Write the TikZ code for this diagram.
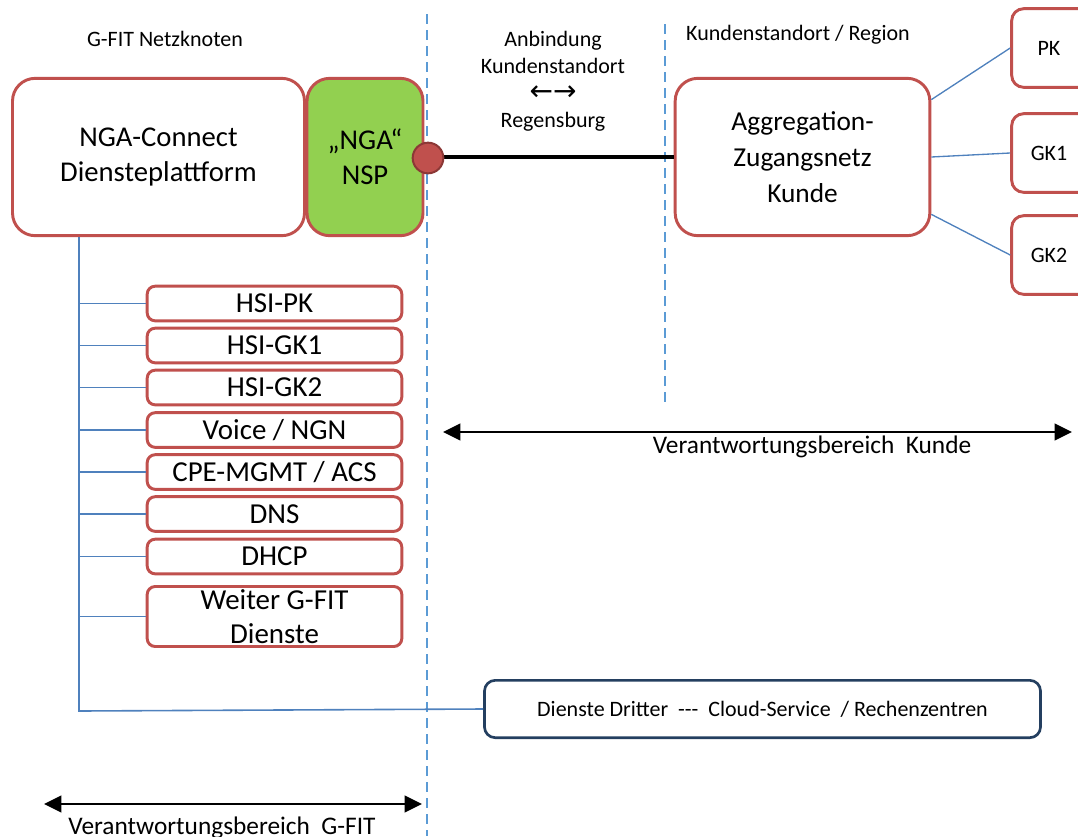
\documentclass[tikz,border=0pt]{standalone}
\usepackage{fontspec}
\setmainfont{Carlito}
\newfontfamily\pfeilfont{DejaVu Sans}
\usetikzlibrary{arrows.meta}
\definecolor{boxrot}{HTML}{C0504D}
\definecolor{portrot}{HTML}{8C3836}
\definecolor{nspgruen}{HTML}{92D050}
\definecolor{linienblau}{HTML}{4F81BD}
\definecolor{trennblau}{HTML}{5B9BD5}
\definecolor{dunkelblau}{HTML}{243F60}

\begin{document}
\begin{tikzpicture}[x=0.75pt,y=-0.75pt,
    haupt/.style={draw=boxrot, line width=2.2pt, rounded corners=17pt, fill=white, inner sep=0pt,
        align=center, minimum height=118pt, font=\fontsize{21.5}{26.5}\selectfont},
    dienst/.style={draw=boxrot, line width=2.2pt, rounded corners=6pt, fill=white, inner sep=0pt,
        align=center, minimum width=191pt, minimum height=26pt, font=\fontsize{21.7}{26}\selectfont},
    kunde/.style={draw=boxrot, line width=2.2pt, rounded corners=9pt, fill=white, inner sep=0pt,
        minimum width=62pt, minimum height=59pt, font=\fontsize{16.5}{20}\selectfont},
    port/.style={circle, fill=boxrot, draw=portrot, line width=1.5pt, minimum size=23pt, inner sep=0pt},
    label/.style={inner sep=0pt, align=center, font=\fontsize{16.5}{20.25}\selectfont},
    bereich/.style={inner sep=0pt, font=\fontsize{19}{23}\selectfont},
    bus/.style={draw=linienblau, line width=1.2pt},
    trenner/.style={draw=trennblau, line width=1pt, dash pattern=on 7.5pt off 4.5pt},
    massband/.style={line width=1.5pt, {Triangle[length=13pt,width=12.5pt]}-{Triangle[length=13pt,width=12.5pt]}}
]
\useasboundingbox (0,0) rectangle (1078,836);

        \coordinate (t1o) at (427,14);
        \coordinate (t1u) at (427,836);
        \coordinate (t2o) at (665,24);
        \coordinate (t2u) at (665,408);
        \draw [trenner] (t1o) -- (t1u);
        \draw [trenner] (t2o) -- (t2u);

        \node (knoten) [label] at (165,39) {G-FIT Netzknoten};
        \node (standort) [label] at (798,35) {Kundenstandort / Region};
        \node (anbindung) [label] at (553,81) {Anbindung\\Kundenstandort\\{\pfeilfont\fontsize{21}{20.25}\selectfont ←→}\\Regensburg};

        \node (plattform) [haupt, minimum width=219pt] at (158.5,157) {NGA-Connect\\Diensteplattform};
        \node (nsp) [haupt, fill=nspgruen, minimum width=87pt] at (365,157) {„NGA“\\NSP};
        \node (agg) [haupt, minimum width=191pt, font=\fontsize{20.5}{27}\selectfont] at (802.5,157) {Aggregation-\\Zugangsnetz\\Kunde};

        \node (pk) [kunde] at (1053,48) {\hspace{-6pt}PK};
        \node (gk1) [kunde] at (1053,153) {\hspace{-6pt}GK1};
        \node (gk2) [kunde] at (1053,255) {\hspace{-6pt}GK2};

        \node (hsipk) [dienst] at (274.5,303.5) {HSI-PK};
        \node (hsigk1) [dienst] at (274.5,345.5) {HSI-GK1};
        \node (hsigk2) [dienst] at (274.5,387.5) {HSI-GK2};
        \node (voice) [dienst] at (274.5,430) {Voice / NGN};
        \node (cpe) [dienst] at (274.5,472) {CPE-MGMT / ACS};
        \node (dns) [dienst] at (274.5,514) {DNS};
        \node (dhcp) [dienst] at (274.5,556.5) {DHCP};
        \node (weiter) [dienst, minimum height=45pt] at (274.5,616.5) {Weiter G-FIT\\Dienste};

        \node (dritte) [draw=dunkelblau, line width=2pt, rounded corners=8pt, minimum width=417pt, minimum height=43pt,
            font=\fontsize{16.5}{19}\selectfont] at (762.5,709) {Dienste Dritter\ \ -{}-{}-\ \ Cloud-Service\ \ / Rechenzentren};

        \draw [black, line width=3pt] (nsp.east |- agg.west) -- (agg.west);
        \node (port) [port] at (428,158) {};

        \draw [linienblau, line width=1pt] (agg.24) -- (pk.west);
        \draw [linienblau, line width=1pt] (agg.east) -- (gk1.west);
        \draw [linienblau, line width=1pt] (agg.-24) -- (gk2.west);

        \coordinate (knick) at (79,711);
        \draw [bus] (plattform.south -| knick) -- (knick) -- (dritte.west);
        \foreach \d in {hsipk,hsigk1,hsigk2,voice,cpe,dns,dhcp,weiter}
            \draw [bus] (\d.west -| knick) -- (\d.west);

        \coordinate (kl) at (443,432);
        \coordinate (kr) at (1072,432);
        \draw [massband] (kl) -- (kr);
        \node (bkunde) [bereich] at (812,447) {Verantwortungsbereich\ \ Kunde};

        \coordinate (gl) at (44,804);
        \coordinate (gr) at (422,804);
        \draw [massband] (gl) -- (gr);
        \node (bgfit) [bereich, anchor=base] at (222,834) {Verantwortungsbereich\ \ G-FIT};

\end{tikzpicture}
\end{document}
